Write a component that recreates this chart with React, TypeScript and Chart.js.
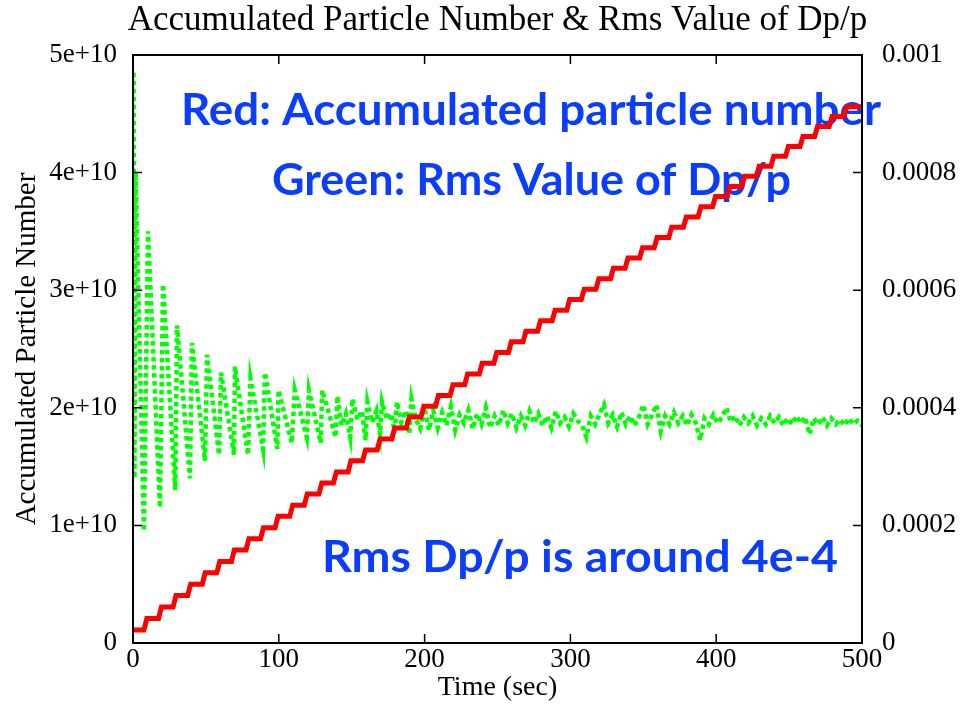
import React, { useEffect, useRef } from 'react';
import { Chart, registerables } from 'chart.js';

Chart.register(...registerables);

const CHART_TITLE = 'Accumulated Particle Number & Rms Value of Dp/p';
const X_TITLE = 'Time (sec)';
const Y_LEFT_TITLE = 'Accumulated Particle Number';
const NOTE_RED = 'Red: Accumulated particle number';
const NOTE_GREEN = 'Green: Rms Value of Dp/p';
const NOTE_RMS = 'Rms Dp/p is around 4e-4';

const xTicks = [0, 100, 200, 300, 400, 500];
const xTickLabels = ['0', '100', '200', '300', '400', '500'];
const leftTicks = [0, 1e10, 2e10, 3e10, 4e10, 5e10];
const leftTickLabels = ['0', '1e+10', '2e+10', '3e+10', '4e+10', '5e+10'];
const rightTicks = [0, 0.0002, 0.0004, 0.0006, 0.0008, 0.001];
const rightTickLabels = ['0', '0.0002', '0.0004', '0.0006', '0.0008', '0.001'];

// Accumulated particle number: injection times (s) and level after each step (units of 1e10)
const stepRiseTimes = [
  8.5, 18.5, 28.5, 38.5, 48.5, 58.5, 68.5, 78.5, 88.5, 98.5,
  108.5, 118.5, 128.5, 138.5, 148.5, 158.5, 168.5, 178.5, 188.5, 198.5,
  208.5, 218.5, 228.5, 238.5, 248.5, 258.5, 268.5, 278.5, 288.5, 298.5,
  308.5, 318.5, 328.5, 338.5, 348.5, 358.5, 368.5, 378.5, 388.5, 398.5,
  408.5, 418.5, 428.5, 438.5, 448.5, 458.5, 468.5, 478.5, 488.5,
];
const particleLevelsE10 = [
  0.11, 0.208, 0.306, 0.403, 0.5, 0.597, 0.694, 0.79, 0.886, 0.981,
  1.077, 1.172, 1.266, 1.361, 1.455, 1.549, 1.642, 1.735, 1.828, 1.921,
  2.013, 2.105, 2.197, 2.288, 2.379, 2.47, 2.561, 2.651, 2.741, 2.83,
  2.92, 3.009, 3.097, 3.186, 3.274, 3.362, 3.449, 3.536, 3.623, 3.71,
  3.796, 3.882, 3.968, 4.053, 4.138, 4.223, 4.308, 4.392, 4.476, 4.559,
];

// Rms Dp/p: sample times (s) and values (units of 1e-4)
const rmsTimes = [
  0.4, 1.0, 1.8, 7.5, 10.3, 18.5, 20.6, 29.0, 30.2, 39.1, 40.4, 49.4, 50.8, 59.0, 60.4, 69.3,
  69.9, 78.9, 80.6, 89.2, 90.5, 99.0, 99.8, 108.9, 111.0, 119.2, 120.7, 128.8, 129.8, 139.0, 140.2,
  143, 146, 149, 150.5, 154, 157, 159.5, 160.8, 164, 167, 169.5, 170.8, 174, 177, 179.5, 181,
  184, 187, 189.5, 191, 194, 197,
  200, 203, 206, 209, 212, 215, 218, 221, 224, 227, 230, 233, 236, 239, 242, 245, 248, 251,
  254, 257, 260, 263, 266, 269, 272, 275, 278, 281, 284, 287, 290, 293, 296, 299, 302, 305,
  308, 311, 314, 317, 320, 323, 326, 329, 332, 335, 338, 341, 344, 347, 350, 353, 356, 359,
  362, 365, 368, 371, 374, 377, 380, 383, 386, 389, 392, 395, 398, 401, 404, 407, 410, 413,
  416, 419, 422, 425, 428, 431, 434, 437, 440, 443, 446, 449, 452, 455, 458, 461, 464, 467,
  470, 473, 476, 479, 482, 485, 488, 491, 494, 497, 500,
];
const rmsDppE4 = [
  9.7, 2.8, 8.0, 1.9, 7.0, 2.3, 6.1, 2.6, 5.4, 2.8, 5.1, 3.1, 4.9, 3.2, 4.6, 3.2,
  4.7, 3.2, 4.5, 3.3, 4.6, 3.3, 4.3, 3.4, 4.3, 3.5, 4.3, 3.4, 4.3, 3.5, 4.2,
  3.7, 3.9, 3.5, 4.15, 3.8, 3.95, 3.45, 4.1, 3.75, 3.95, 3.55, 4.1, 3.8, 3.9, 3.6, 4.1,
  3.75, 3.95, 3.55, 4.15, 3.8, 3.65,
  4.0, 3.62, 3.95, 3.66, 3.92, 3.7, 4.02, 3.62, 3.88, 3.74, 3.96, 3.64, 3.9, 3.72, 4.0, 3.66, 3.86, 3.7,
  3.96, 3.74, 3.9, 3.66, 3.86, 3.7, 3.94, 3.74, 3.9, 3.7, 3.86, 3.66, 3.94, 3.74, 3.84, 3.68, 3.9, 3.78,
  3.7, 3.5, 3.86, 3.72, 3.9, 4.05, 3.74, 3.88, 3.68, 3.92, 3.72, 3.86, 3.7, 3.84, 4.05, 3.72, 3.88, 4.05,
  3.6, 3.86, 3.72, 3.92, 3.74, 3.86, 3.7, 3.88, 3.74, 3.45, 3.82, 3.72, 3.88, 3.74, 3.84, 4.0, 3.76, 3.86,
  3.7, 3.84, 3.74, 3.86, 3.7, 3.82, 3.72, 3.86, 3.74, 3.84, 3.7, 3.82, 3.72, 3.86, 3.74, 3.84, 3.55, 3.82,
  3.72, 3.84, 3.7, 3.82, 3.72, 3.8, 3.7, 3.82, 3.72, 3.78, 3.7,
];

const SERIF = "'Liberation Serif', 'Times New Roman', Times, serif";
const NOTE_FONT = "'Comic Sans MS', 'Lato', 'Open Sans', sans-serif";
const NOTE_COLOR = '#0b3dff';

export default function App() {
  const canvasRef = useRef<HTMLCanvasElement | null>(null);

  useEffect(() => {
    document.body.style.margin = '0';
    const canvas = canvasRef.current;
    if (!canvas) return;

    const redPoints: { x: number; y: number }[] = [{ x: 0, y: particleLevelsE10[0] * 1e10 }];
    stepRiseTimes.forEach((t, k) => {
      redPoints.push({ x: t - 1.0, y: particleLevelsE10[k] * 1e10 });
      redPoints.push({ x: t + 1.0, y: particleLevelsE10[k + 1] * 1e10 });
    });
    redPoints.push({ x: 500, y: particleLevelsE10[particleLevelsE10.length - 1] * 1e10 });

    const n = Math.min(rmsTimes.length, rmsDppE4.length);
    const greenPoints: { x: number; y: number }[] = [];
    for (let i = 0; i < n; i++) greenPoints.push({ x: rmsTimes[i], y: rmsDppE4[i] * 1e-4 });

    const drawNote = (ctx: CanvasRenderingContext2D, text: string, x0: number, x1: number, baseline: number) => {
      ctx.save();
      ctx.font = `bold 44px ${NOTE_FONT}`;
      const w = ctx.measureText(text).width;
      const sx = (x1 - x0) / w;
      ctx.translate(x0, baseline);
      ctx.scale(sx, 1);
      ctx.fillStyle = NOTE_COLOR;
      ctx.textAlign = 'left';
      ctx.textBaseline = 'alphabetic';
      ctx.fillText(text, 0, 0);
      ctx.restore();
    };

    const decorPlugin = {
      id: 'decor',
      beforeDatasetsDraw(chart: any) {
        const ctx = chart.ctx as CanvasRenderingContext2D;
        drawNote(ctx, NOTE_RED, 181, 881, 125);
        drawNote(ctx, NOTE_GREEN, 272, 791, 195);
        drawNote(ctx, NOTE_RMS, 322, 838, 572);
      },
      afterDatasetsDraw(chart: any) {
        const ctx = chart.ctx as CanvasRenderingContext2D;
        const { left, right, top, bottom } = chart.chartArea;
        const sx = chart.scales.x;
        const sy = chart.scales.y;
        const sy1 = chart.scales.y1;
        ctx.save();
        ctx.strokeStyle = '#000';
        ctx.lineWidth = 2;
        ctx.strokeRect(left, top, right - left, bottom - top);
        ctx.lineWidth = 1.5;
        const L = 9;
        ctx.beginPath();
        xTicks.forEach((v) => {
          const px = sx.getPixelForValue(v);
          ctx.moveTo(px, bottom);
          ctx.lineTo(px, bottom - L);
          ctx.moveTo(px, top);
          ctx.lineTo(px, top + L);
        });
        leftTicks.forEach((v) => {
          const py = sy.getPixelForValue(v);
          ctx.moveTo(left, py);
          ctx.lineTo(left + L, py);
        });
        rightTicks.forEach((v) => {
          const py = sy1.getPixelForValue(v);
          ctx.moveTo(right, py);
          ctx.lineTo(right - L, py);
        });
        ctx.stroke();
        // title
        ctx.fillStyle = '#000';
        ctx.font = `35px ${SERIF}`;
        ctx.textAlign = 'center';
        ctx.textBaseline = 'alphabetic';
        ctx.fillText(CHART_TITLE, (left + right) / 2, 30);
        ctx.restore();
      },
    };

    const chart = new Chart(canvas, {
      type: 'line',
      data: {
        datasets: [
          {
            label: 'Accumulated particle number',
            data: redPoints,
            yAxisID: 'y',
            borderColor: '#ff0000',
            borderWidth: 5,
            borderJoinStyle: 'miter',
            pointRadius: 0,
            tension: 0,
            fill: false,
          },
          {
            label: 'Rms Dp/p',
            data: greenPoints,
            yAxisID: 'y1',
            borderColor: '#00ff00',
            borderWidth: 4.5,
            borderDash: [4.5, 3.5],
            borderCapStyle: 'butt',
            borderJoinStyle: 'miter',
            pointRadius: 0,
            tension: 0,
            fill: false,
          },
        ],
      },
      options: {
        responsive: false,
        animation: false,
        devicePixelRatio: 1,
        layout: { padding: { top: 55, left: 0, right: 0, bottom: 0 } },
        plugins: { legend: { display: false }, tooltip: { enabled: false }, title: { display: false } },
        scales: {
          x: {
            type: 'linear',
            min: 0,
            max: 500,
            afterBuildTicks: (s: any) => { s.ticks = xTicks.map((v) => ({ value: v })); },
            afterFit: (s: any) => { s.height = 61; },
            ticks: {
              callback: (_v: any, i: number) => xTickLabels[i],
              font: { family: SERIF, size: 27 },
              color: '#000',
              padding: 1,
              maxRotation: 0,
              autoSkip: false,
            },
            grid: { display: false, drawTicks: false },
            border: { display: false },
            title: {
              display: true,
              text: X_TITLE,
              font: { family: SERIF, size: 28 },
              color: '#000',
              padding: { top: 0, bottom: 0 },
            },
          },
          y: {
            type: 'linear',
            position: 'left',
            min: 0,
            max: 5e10,
            afterBuildTicks: (s: any) => { s.ticks = leftTicks.map((v) => ({ value: v })); },
            afterFit: (s: any) => { s.width = 133; },
            ticks: {
              callback: (_v: any, i: number) => leftTickLabels[i],
              font: { family: SERIF, size: 27 },
              color: '#000',
              padding: 16,
              autoSkip: false,
            },
            grid: { display: false, drawTicks: false },
            border: { display: false },
            title: {
              display: true,
              text: Y_LEFT_TITLE,
              font: { family: SERIF, size: 29 },
              color: '#000',
              padding: { top: 10, bottom: 0 },
            },
          },
          y1: {
            type: 'linear',
            position: 'right',
            min: 0,
            max: 0.001,
            afterBuildTicks: (s: any) => { s.ticks = rightTicks.map((v) => ({ value: v })); },
            afterFit: (s: any) => { s.width = 100; },
            ticks: {
              callback: (_v: any, i: number) => rightTickLabels[i],
              font: { family: SERIF, size: 27 },
              color: '#000',
              padding: 20,
              autoSkip: false,
            },
            grid: { display: false, drawTicks: false },
            border: { display: false },
          },
        },
      },
      plugins: [decorPlugin],
    } as any);

    return () => chart.destroy();
  }, []);

  return (
    <div style={{ position: 'absolute', left: 0, top: 0, width: 962, height: 704, background: '#fff' }}>
      <canvas ref={canvasRef} width={962} height={704} style={{ display: 'block' }} />
    </div>
  );
}
